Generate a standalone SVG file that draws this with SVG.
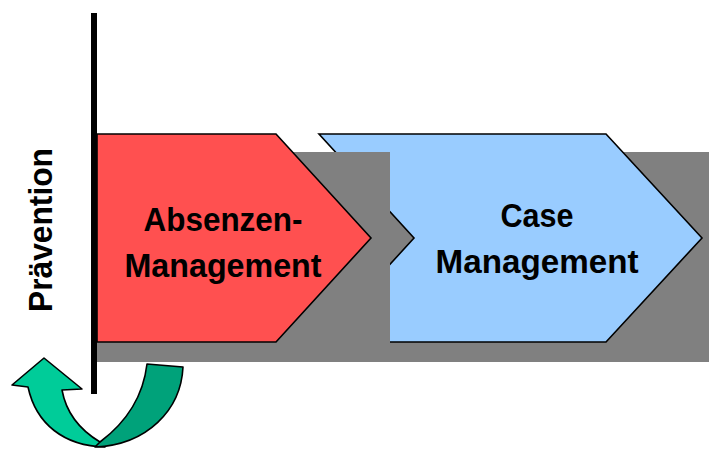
<svg xmlns="http://www.w3.org/2000/svg" width="709" height="449" viewBox="0 0 709 449">
<style>
.shadow{fill:#808080;}
.chev{stroke:#000;stroke-width:1.6;stroke-linejoin:miter;}
.lbl{font-family:"Liberation Sans",Arial,sans-serif;font-weight:bold;font-size:33.5px;fill:#000;text-anchor:middle;}
.arr{stroke:#000;stroke-width:1.6;stroke-linejoin:round;}
</style>
<rect width="709" height="449" fill="#fff"/>
<g id="case-management">
<rect class="shadow" x="390" y="152" width="319" height="210"/>
<polygon class="chev" fill="#99CCFF" points="319,134 606,134 702,238 606,342 319,342 414,238"/>
<text class="lbl" x="537" y="227" textLength="73" lengthAdjust="spacingAndGlyphs">Case</text>
<text class="lbl" x="537" y="273" textLength="203" lengthAdjust="spacingAndGlyphs">Management</text>
</g>
<g id="absenzen-management">
<rect class="shadow" x="97" y="152" width="293" height="210"/>
<polygon class="chev" fill="#FF5050" points="97,134 276,134 371,238 276,342 97,342"/>
<text class="lbl" x="223" y="231" textLength="159" lengthAdjust="spacingAndGlyphs">Absenzen-</text>
<text class="lbl" x="223" y="277" textLength="197" lengthAdjust="spacingAndGlyphs">Management</text>
</g>
<g id="praevention">
<line x1="94" y1="13" x2="94" y2="394" stroke="#000" stroke-width="6"/>
<text class="lbl" transform="translate(52,230) rotate(-90)" textLength="164" lengthAdjust="spacingAndGlyphs">Prävention</text>
</g>
<g id="connectors">
<path class="arr" fill="#00CC99" d="M62,390 L82,389 L44,358 L12,385 L28,387 C36,424 64,446 105,447 L100,442 C80,430 66,412 62,390 Z"/>
<path class="arr" fill="#00A27A" d="M147,364 L183,367 C181,410 147,445 95,447 L100,442 C124,424 143,398 147,364 Z"/>
</g>
</svg>
